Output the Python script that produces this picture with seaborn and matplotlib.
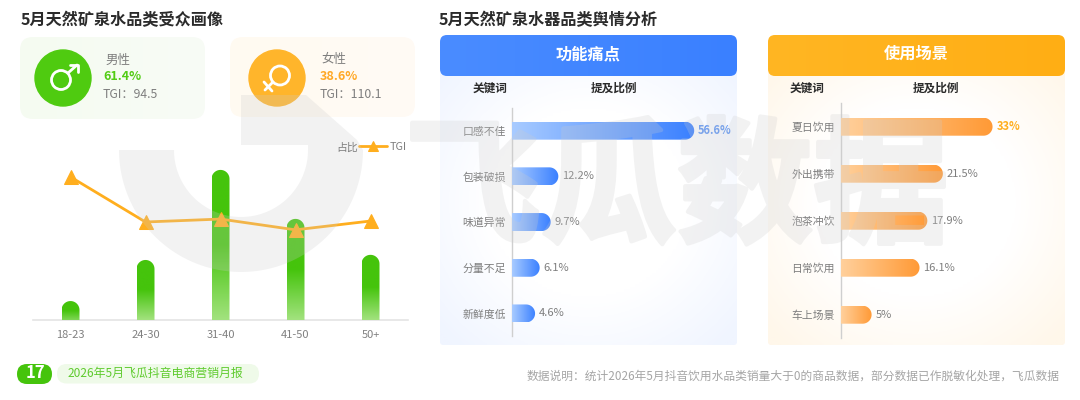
import numpy as np
import seaborn as sns
import matplotlib
matplotlib.use('Agg')
import matplotlib.pyplot as plt
import matplotlib.patheffects as pe
from matplotlib.colors import LinearSegmentedColormap
from matplotlib.patches import Circle, FancyBboxPatch, PathPatch
from matplotlib.path import Path

# Data
age_groups = ['18-23', '24-30', '31-40', '41-50', '50+']
age_share = [4.8, 15.2, 38.0, 25.6, 16.5]
age_tgi = [146, 100, 103, 92, 101]

pain_words = ['口感不佳', '包装破损', '味道异常', '分量不足', '新鲜度低']
pain_share = [56.6, 12.2, 9.7, 6.1, 4.6]
pain_labels = ['56.6%', '12.2%', '9.7%', '6.1%', '4.6%']

scene_words = ['夏日饮用', '外出携带', '泡茶冲饮', '日常饮用', '车上场景']
scene_share = [33, 21.5, 17.9, 16.1, 5]
scene_labels = ['33%', '21.5%', '17.9%', '16.1%', '5%']

GREEN = '#45C40C'
ORANGE = '#FFAE1E'
BLUE = '#3A80FF'
GREY = '#7E7E7E'
DARK = '#2B2B2B'
W, H = 1080, 400

sns.set_theme(style='white')
plt.rcParams['font.family'] = ['Noto Sans CJK SC', 'DejaVu Sans']
plt.rcParams['axes.unicode_minus'] = False

fig = plt.figure(figsize=(10.8, 4), dpi=100, facecolor='white')


def pixel_axes(zorder):
    ax = fig.add_axes([0, 0, 1, 1], zorder=zorder)
    ax.set_xlim(0, W)
    ax.set_ylim(H, 0)
    ax.axis('off')
    ax.patch.set_alpha(0)
    return ax


def chart_axes(x0, y0, x1, y1, zorder=2):
    ax = fig.add_axes([x0 / W, 1 - y1 / H, (x1 - x0) / W, (y1 - y0) / H], zorder=zorder)
    ax.patch.set_alpha(0)
    return ax


def gradient_fill(ax, patch, extent, colors, horizontal=True, radial=False, zorder=1):
    x0, x1, y0, y1 = extent
    cmap = LinearSegmentedColormap.from_list('g', colors)
    if radial:
        yy, xx = np.mgrid[-1:1:120j, -1:1:240j]
        grid = np.clip(np.sqrt(xx ** 2 + yy ** 2) / 1.35, 0, 1)
    elif horizontal:
        grid = np.linspace(0, 1, 200).reshape(1, -1)
    else:
        grid = np.linspace(0, 1, 200).reshape(-1, 1)
    patch.set_facecolor('none')
    patch.set_edgecolor('none')
    patch.set_zorder(zorder)
    ax.add_patch(patch)
    im = ax.imshow(grid, cmap=cmap, extent=(x0, x1, y1, y0), origin='upper', aspect='auto',
                   interpolation='bilinear', zorder=zorder, vmin=0, vmax=1)
    im.set_clip_path(patch)
    ax.set_xlim(0, W)
    ax.set_ylim(H, 0)


def to_pixels(ax, x, y):
    px, py = ax.transData.transform((x, y))
    return px, H - py


def capped_bar(x0, y0, x1, y1, r, vertical):
    if vertical:
        t = np.linspace(np.pi, 0, 24)
        xs = (x0 + x1) / 2 + r * np.cos(t)
        ys = y0 + r - r * np.sin(t)
        pts = [(x0, y1)] + list(zip(xs, ys)) + [(x1, y1), (x0, y1)]
    else:
        t = np.linspace(np.pi / 2, -np.pi / 2, 24)
        xs = x1 + r * np.cos(t)
        ys = (y0 + y1) / 2 - r * np.sin(t)
        pts = [(x0, y0)] + list(zip(xs, ys)) + [(x0, y1), (x0, y0)]
    return PathPatch(Path(pts, closed=True))


def fade(img, dpi):
    # keeps the stroke and fill of the big watermark as one even layer
    out = img.copy()
    out[:, :, 3] = out[:, :, 3] * 0.25
    return out, 0, 0


bg = pixel_axes(0)
bars_layer = pixel_axes(3)
top = pixel_axes(6)

# titles
bg.text(21, 20, '5月天然矿泉水品类受众画像', fontsize=11.6, fontweight='bold', color=DARK, va='center')
bg.text(439, 20, '5月天然矿泉水器品类舆情分析', fontsize=11.6, fontweight='bold', color=DARK, va='center')

# gender cards
card = FancyBboxPatch((20, 37), 185, 82, boxstyle='round,pad=0,rounding_size=13')
gradient_fill(bg, card, (20, 205, 37, 119), ['#F5FBF1', '#F8FCF6'])
card = FancyBboxPatch((230, 37), 185, 80, boxstyle='round,pad=0,rounding_size=13')
gradient_fill(bg, card, (230, 415, 37, 117), ['#FFFAF1', '#FFFBF5'])
bg.add_patch(Circle((63, 78), 28, color='#4FCB10', zorder=2))
bg.add_patch(Circle((277, 78), 28, color='#FFB52B', zorder=2))

# male symbol
bg.add_patch(Circle((61, 80), 9.5, fc='none', ec='white', lw=2, zorder=3))
bg.plot([68, 77], [73, 65], color='white', lw=2, zorder=3, solid_capstyle='round')
bg.plot([70, 77.5, 77.5], [65, 65, 72], color='white', lw=2, zorder=3, solid_capstyle='round')
# female symbol
bg.add_patch(Circle((280, 75.5), 9.5, fc='none', ec='white', lw=2, zorder=3))
bg.plot([273, 265], [82, 90], color='white', lw=2, zorder=3, solid_capstyle='round')
bg.plot([264, 272], [82, 91], color='white', lw=2, zorder=3, solid_capstyle='round')

bg.text(105, 60, '男性', fontsize=9, color=GREY, va='center', zorder=3)
bg.text(103, 76.5, '61.4%', fontsize=9, fontweight='bold', color='#52CC14', va='center', zorder=3)
bg.text(103, 94, 'TGI：94.5', fontsize=8.8, color=GREY, va='center', zorder=3)
bg.text(321, 60, '女性', fontsize=9, color=GREY, va='center', zorder=3)
bg.text(320, 76.5, '38.6%', fontsize=9, fontweight='bold', color='#FFA826', va='center', zorder=3)
bg.text(320, 94, 'TGI：110.1', fontsize=8.8, color=GREY, va='center', zorder=3)

# age chart
ax = chart_axes(33, 140, 408, 320)
sns.barplot(x=age_groups, y=age_share, color=GREEN, width=0.24, ax=ax)
ax.set_xlim(-0.5, 4.5)
ax.set_ylim(0, 180 / 3.95)
ax.set_yticks([])
sns.despine(ax=ax, left=True)
ax.spines['bottom'].set_color('#E4E4E4')
ax.spines['bottom'].set_linewidth(1.2)
ax.tick_params(axis='x', length=0, labelsize=8, labelcolor='#808080', pad=7)
for p in ax.patches:
    x0, y0 = to_pixels(ax, p.get_x(), p.get_height())
    x1, y1 = to_pixels(ax, p.get_x() + p.get_width(), 0)
    p.set_visible(False)
    gradient_fill(bars_layer, capped_bar(x0, y0, x1, y1, (x1 - x0) / 2, True), (x0, x1, y0, y1),
                  [GREEN, GREEN, '#A2E27E'] if y1 - y0 > 40 else [GREEN, GREEN, '#7FD655'], horizontal=False)

line_ax = chart_axes(33, 140, 408, 320, zorder=4)
sns.lineplot(x=age_groups, y=age_tgi, sort=False, color=ORANGE, lw=2, marker='^', markersize=10,
             markeredgecolor=ORANGE, label='TGI', ax=line_ax)
line_ax.set_xlim(-0.5, 4.5)
line_ax.set_ylim(0, 180 / 0.98)
line_ax.axis('off')
line_ax.legend(loc='upper right', bbox_to_anchor=(0.997, 0.99), frameon=False, fontsize=7.8, markerscale=0.7,
               handlelength=2.5, handletextpad=0.3, borderpad=0, borderaxespad=0, labelcolor=GREY)
top.text(336, 147.5, '占比', fontsize=7.8, color=GREY, va='center')


def panel(x0, title, words, share, labels, head_colors, body_edge, bar_colors, px_per_unit,
          base, top_y, bottom_y, key_x, ratio_x, value_color):
    head = FancyBboxPatch((x0, 35), 297, 41, boxstyle='round,pad=0,rounding_size=7')
    body = FancyBboxPatch((x0, 60), 297, 285, boxstyle='round,pad=0,rounding_size=3')
    gradient_fill(bg, body, (x0, x0 + 297, 60, 345), ['#FFFFFF', '#FFFFFF', body_edge], radial=True, zorder=1)
    gradient_fill(bg, head, (x0, x0 + 297, 35, 76), head_colors, zorder=2)
    bg.text(x0 + 148, 54, title, fontsize=11.7, fontweight='bold', color='white', ha='center', va='center', zorder=3)
    bg.text(key_x, 88.5, '关键词', fontsize=8.4, fontweight='bold', color=DARK, ha='center', va='center', zorder=3)
    bg.text(ratio_x, 88.5, '提及比例', fontsize=8.4, fontweight='bold', color=DARK, ha='center', va='center', zorder=3)

    a = chart_axes(base, top_y, base + 210, bottom_y)
    sns.barplot(x=share, y=words, color=bar_colors[-1], width=18 * 5 / (bottom_y - top_y), orient='h', ax=a)
    a.set_xlim(0, 210 / px_per_unit)
    a.set_ylim(4.5, -0.5)
    a.set_xticks([])
    sns.despine(ax=a, bottom=True)
    a.spines['left'].set_color('#CFCFCF')
    a.spines['left'].set_linewidth(1)
    a.tick_params(axis='y', length=0, labelsize=7.8, labelcolor=GREY, pad=4.5)
    for i, p in enumerate(a.patches):
        bx0, by0 = to_pixels(a, 0, p.get_y())
        bx1, by1 = to_pixels(a, p.get_width(), p.get_y() + p.get_height())
        p.set_visible(False)
        r = (by1 - by0) / 2
        gradient_fill(bars_layer, capped_bar(bx0, by0, bx1, by1, r, False), (bx0, bx1 + r, by0, by1), bar_colors)
        first = i == 0
        bars_layer.text(bx1 + r + 4, (by0 + by1) / 2, labels[i], va='center', zorder=5, fontsize=8,
                        color=value_color if first else GREY, fontweight='bold' if first else 'normal')


panel(440, '功能痛点', pain_words, pain_share, pain_labels, ['#4A8CFF', '#3A80FF'], '#F0F5FF',
      ['#A8CBFF', BLUE], 3.06, 512, 107.8, 336.3, 490, 614, '#5E95F5')
panel(768, '使用场景', scene_words, scene_share, scene_labels, ['#FFB623', '#FFAE14'], '#FFF7EA',
      ['#FFD09C', '#FF9A36'], 4.32, 841, 103.2, 338.2, 807, 936, ORANGE)

# footer
top.add_patch(FancyBboxPatch((57, 364), 202, 19.5, boxstyle='round,pad=0,rounding_size=9.7', fc='#EFFAE9', ec='none'))
top.add_patch(FancyBboxPatch((17, 364), 35, 20, boxstyle='round,pad=0,rounding_size=10', fc=GREEN, ec='none'))
top.text(35, 373.5, '17', fontsize=12, fontweight='bold', color='white', ha='center', va='center')
top.text(155, 373.5, '2026年5月飞瓜抖音电商营销月报', fontsize=8.6, color='#5FCB2E', ha='center', va='center')
top.text(1060, 376, '数据说明：统计2026年5月抖音饮用水品类销量大于0的商品数据，部分数据已作脱敏化处理，飞瓜数据',
         fontsize=8.45, color='#A5A5A5', ha='right', va='center')

# watermark over everything
t = np.linspace(np.pi, 0, 80)
outer = list(zip(241 + 122 * np.cos(t), 150 + 122 * np.sin(t)))
inner = list(zip(241 + 67 * np.cos(t[::-1]), 150 + 67 * np.sin(t[::-1])))
logo = outer + [(357, 140), (306, 95), (241, 95), (241, 145), (308, 145)] + inner + [outer[0]]
top.add_patch(PathPatch(Path(logo, closed=True), fc=(0.8, 0.8, 0.8), ec='none', alpha=0.25))
mark = top.text(677, 192, '飞瓜数据', fontsize=98, fontweight='bold', color=(0.8, 0.8, 0.8),
                ha='center', va='center')
mark.set_path_effects([pe.Stroke(linewidth=3, foreground=(0.8, 0.8, 0.8))])
mark.set_agg_filter(fade)

fig.savefig('out.png', dpi=100)
